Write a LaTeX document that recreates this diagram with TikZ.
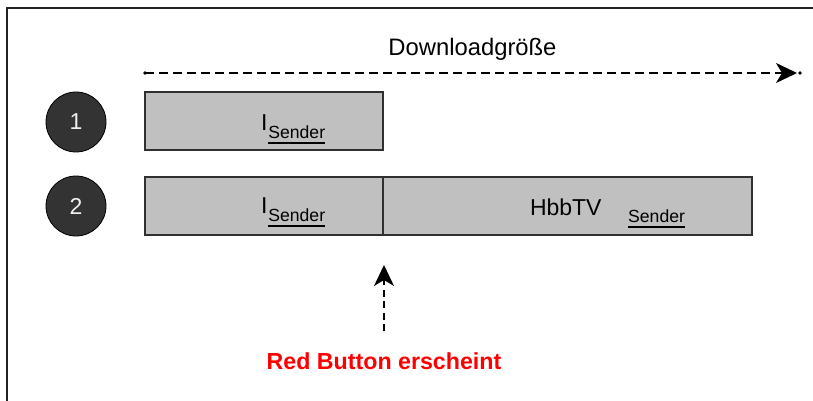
\documentclass[tikz,border=0pt]{standalone}
\usepackage{fontspec}
\setmainfont{Liberation Sans}
\usetikzlibrary{arrows.meta}

\definecolor{boxfill}{HTML}{C0C0C0}
\definecolor{boxline}{HTML}{303030}
\definecolor{discfill}{HTML}{333333}
\definecolor{framecol}{HTML}{222222}

% underlined word with a heavy rule just below the baseline
\newlength\ulw
\newcommand\ulword[1]{\settowidth\ulw{#1}\rlap{\rule[-5.5pt]{\ulw}{1.8pt}}#1}
\newcommand\subsender{\raisebox{-8pt}{\fontsize{17.6pt}{20pt}\selectfont\kern1pt\ulword{Sender}}}

\tikzset{
  bar/.style={draw=boxline, fill=boxfill, line width=1.6pt, rectangle,
              minimum height=58pt, inner sep=0pt, outer sep=0pt},
  disc/.style={circle, draw=black, line width=0.8pt, fill=discfill,
               minimum size=60pt, inner sep=0pt,
               text=white!94!black, font=\fontsize{23pt}{26pt}\selectfont},
  lbl/.style={inner sep=0pt, outer sep=0pt, anchor=base west,
              font=\fontsize{23pt}{26pt}\selectfont},
  dashline/.style={line width=1.8pt, dash pattern=on 9pt off 5pt},
  tipstyle/.style={-{Stealth[length=21pt, width=20pt, inset=6pt]}},
}

\begin{document}
\begin{tikzpicture}[x=1pt, y=-1pt]
  \useasboundingbox (0,0) rectangle (813,401);

  % frame edges (top and left)
  \draw[framecol, line width=2pt] (6.5,401) -- (6.5,8.5) -- (813,8.5);

  % download size axis
  \node[inner sep=0pt, anchor=base, font=\fontsize{23.8pt}{26pt}\selectfont]
    (size) at (472.5,56) {Downloadgröße};
  \coordinate (axis-start) at (145,73);
  \coordinate (axis-tip) at (797,73);
  \coordinate (axis-dot) at (800,73);
  \draw[dashline, tipstyle] (axis-start) -- (axis-tip);
  \fill (axis-start) circle (1.8pt);
  \fill (axis-dot) circle (1.8pt);

  % row markers
  \node[disc] (n1) at (76,122) {1};
  \node[disc] (n2) at (76,206) {2};

  % row 1
  \node[bar, minimum width=238pt, anchor=north west] (r1) at (145,92) {};
  \node[lbl] (r1-label) at (261,130) {I\subsender};

  % row 2
  \node[bar, minimum width=238pt, anchor=north west] (r2a) at (145,177) {};
  \node[bar, minimum width=369pt, anchor=north west] (r2b) at (383,177) {};
  \node[lbl] (r2-label) at (261,213) {I\subsender};
  \node[lbl] (hbb) at (530,215) {HbbTV};
  \node[inner sep=0pt, anchor=base west, font=\fontsize{17.6pt}{20pt}\selectfont]
    (hbb-sender) at (628,222) {\ulword{Sender}};

  % red button marker
  \coordinate (rb-tail) at (384,331);
  \coordinate (rb-tip) at (384,265);
  \draw[dashline, dash pattern=on 7pt off 4.5pt, tipstyle] (rb-tail) -- (rb-tip);
  \node[inner sep=0pt, anchor=base, text=red,
        font=\fontsize{23.2pt}{26pt}\selectfont\bfseries]
    (rb) at (384,369) {Red Button erscheint};
\end{tikzpicture}
\end{document}
